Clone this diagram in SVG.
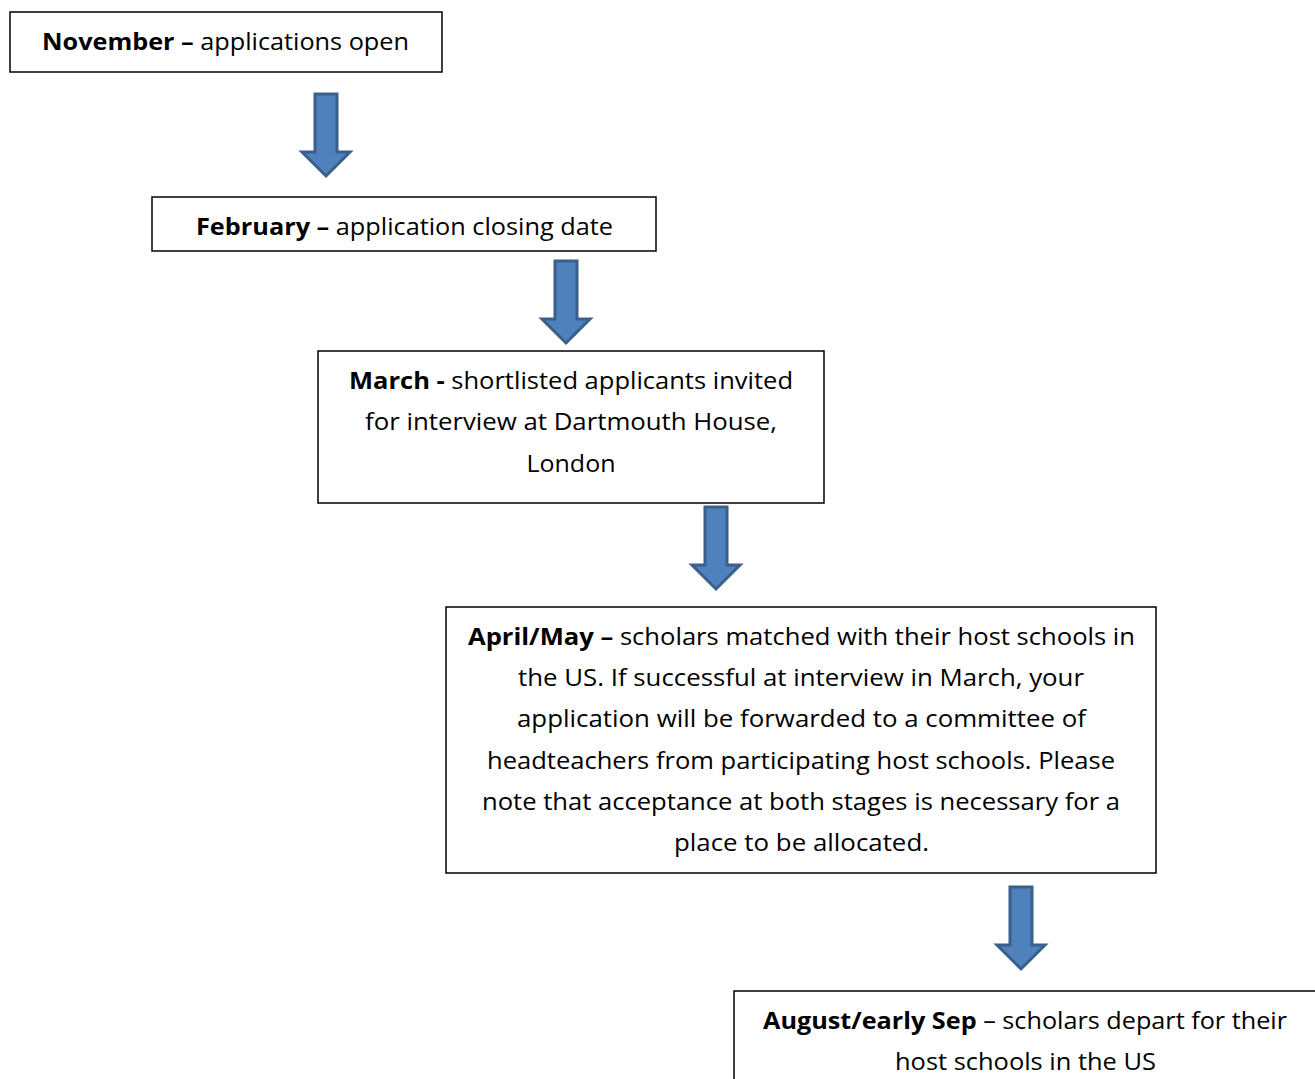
<svg xmlns="http://www.w3.org/2000/svg" xmlns:xlink="http://www.w3.org/1999/xlink" width="1315" height="1079" viewBox="0 0 1315 1079">
<style>
.box{fill:#fff;stroke:#000;stroke-width:1.5}
.t{font-family:"Open Sans","Liberation Sans",sans-serif;font-size:24px;fill:#000;text-anchor:middle}
.b{font-weight:700}
.arrow{fill:#4F81BD;stroke:#3A5F8B;stroke-width:3;stroke-linejoin:miter}
</style>
<defs>
<polygon id="arr" class="arrow" points="-11,1 11,1 11,59 24,59 0,83 -24,59 -11,59"/>
</defs>
<rect width="1315" height="1079" fill="#fff"/>
<g id="connectors">
<use xlink:href="#arr" transform="translate(326,93)"/>
<use xlink:href="#arr" transform="translate(566,260)"/>
<use xlink:href="#arr" transform="translate(716,506)"/>
<use xlink:href="#arr" transform="translate(1021,886)"/>
</g>
<g id="n1">
<rect class="box" x="10" y="12" width="432" height="60"/>
<text class="t" x="225.5" y="50" textLength="367" lengthAdjust="spacingAndGlyphs"><tspan class="b">November –</tspan> applications open</text>
</g>
<g id="n2">
<rect class="box" x="152" y="197" width="504" height="54"/>
<text class="t" x="404.5" y="235" textLength="417" lengthAdjust="spacingAndGlyphs"><tspan class="b">February –</tspan> application closing date</text>
</g>
<g id="n3">
<rect class="box" x="318" y="351" width="506" height="152"/>
<text class="t" x="571" y="389" textLength="444" lengthAdjust="spacingAndGlyphs"><tspan class="b">March -</tspan> shortlisted applicants invited</text>
<text class="t" x="571" y="430" textLength="412" lengthAdjust="spacingAndGlyphs">for interview at Dartmouth House,</text>
<text class="t" x="571" y="472" textLength="89" lengthAdjust="spacingAndGlyphs">London</text>
</g>
<g id="n4">
<rect class="box" x="446" y="607" width="710" height="266"/>
<text class="t" x="801.5" y="645" textLength="667" lengthAdjust="spacingAndGlyphs"><tspan class="b">April/May –</tspan> scholars matched with their host schools in</text>
<text class="t" x="801" y="686" textLength="566" lengthAdjust="spacingAndGlyphs">the US. If successful at interview in March, your</text>
<text class="t" x="801.5" y="727" textLength="569" lengthAdjust="spacingAndGlyphs">application will be forwarded to a committee of</text>
<text class="t" x="801" y="769" textLength="628" lengthAdjust="spacingAndGlyphs">headteachers from participating host schools. Please</text>
<text class="t" x="801" y="810" textLength="638" lengthAdjust="spacingAndGlyphs">note that acceptance at both stages is necessary for a</text>
<text class="t" x="801.5" y="851" textLength="255" lengthAdjust="spacingAndGlyphs">place to be allocated.</text>
</g>
<g id="n5">
<rect class="box" x="734" y="991" width="600" height="120"/>
<text class="t" x="1025" y="1029" textLength="524" lengthAdjust="spacingAndGlyphs"><tspan class="b">August/early Sep</tspan> – scholars depart for their</text>
<text class="t" x="1025.5" y="1070" textLength="261" lengthAdjust="spacingAndGlyphs">host schools in the US</text>
</g>
</svg>
